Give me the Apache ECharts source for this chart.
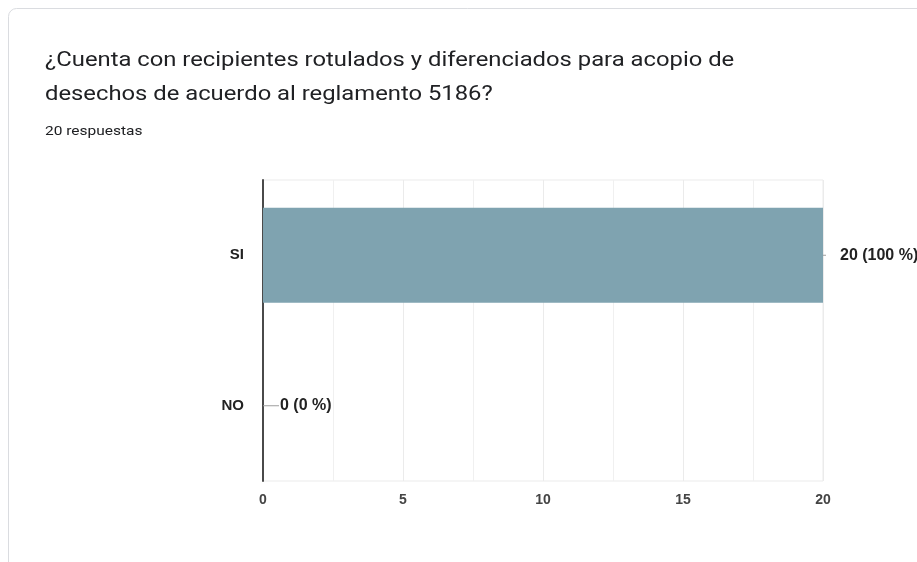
<!DOCTYPE html>
<html>
<head>
<meta charset="utf-8">
<script src="https://cdn.jsdelivr.net/npm/echarts@6/dist/echarts.min.js"></script>
<style>
  html, body { margin: 0; padding: 0; background: #ffffff; }
  #chart { width: 917px; height: 562px; }
</style>
</head>
<body>
<div id="chart"></div>
<script>
// Survey answers: labelled and separated waste containers
const categories = ['SI', 'NO'];
const counts = [20, 0];
const total = 20;
const titleLines = [
  '¿Cuenta con recipientes rotulados y diferenciados para acopio de',
  'desechos de acuerdo al reglamento 5186?'
];
const subtitle = '20 respuestas';

const chart = echarts.init(document.getElementById('chart'), null, { renderer: 'canvas' });

const headFont = 'Roboto, "Noto Sans", sans-serif';
const bodyFont = '"Liberation Sans", Arial, sans-serif';
const stretch = 1.19;

// Value annotation: a grey stem followed by "n (p %)"; on a filled bar only a short stub shows
const labelFmt = p => {
  const txt = '{v|' + p.value + ' (' + Math.round(p.value / total * 100) + ' %)}';
  return p.value > 0 ? '{stub| }{space| }' + txt : '{lead| }{gap| }' + txt;
};

chart.setOption({
  backgroundColor: '#ffffff',
  animation: false,
  graphic: [
    {
      type: 'rect',
      shape: { x: 8.5, y: 8.5, width: 1000, height: 700, r: 8 },
      style: { fill: '#ffffff', stroke: '#dadce0', lineWidth: 1 },
      z: -10
    },
    {
      type: 'text', x: 45, y: 61, scaleX: stretch,
      style: { text: titleLines[0], fontSize: 20, fontFamily: headFont, fill: '#202124', verticalAlign: 'middle' }
    },
    {
      type: 'text', x: 45, y: 95, scaleX: stretch,
      style: { text: titleLines[1], fontSize: 20, fontFamily: headFont, fill: '#202124', verticalAlign: 'middle' }
    },
    {
      type: 'text', x: 45, y: 132, scaleX: stretch,
      style: { text: subtitle, fontSize: 13, fontFamily: headFont, fill: '#202124', verticalAlign: 'middle' }
    }
  ],
  grid: {
    left: 263, right: 94, top: 180, bottom: 81,
    show: true, borderColor: '#ebebeb', borderWidth: 1
  },
  xAxis: {
    type: 'value',
    min: 0, max: 20, interval: 5,
    axisLine: { show: false },
    axisTick: { show: false },
    axisLabel: {
      color: '#444', fontSize: 14, fontWeight: 'bold',
      fontFamily: bodyFont, margin: 12
    },
    splitLine: { show: true, lineStyle: { color: '#ebebeb', width: 1 } },
    minorTick: { show: false, splitNumber: 2 },
    minorSplitLine: { show: true, lineStyle: { color: '#f0f0f0', width: 1 } }
  },
  yAxis: {
    type: 'category',
    data: categories,
    inverse: true,
    axisLine: { show: true, lineStyle: { color: '#4a4a4a', width: 2 } },
    axisTick: { show: false },
    axisLabel: {
      color: '#222', fontSize: 15, fontWeight: 'bold',
      fontFamily: bodyFont, margin: 19
    },
    splitLine: { show: false }
  },
  series: [{
    type: 'bar',
    data: counts,
    barWidth: '63%',
    itemStyle: { color: '#7fa3b0' },
    label: {
      show: true,
      position: 'right',
      distance: 0,
      formatter: labelFmt,
      rich: {
        lead: { width: 16, height: 1, backgroundColor: '#9e9e9e', fontSize: 1 },
        gap: { width: 1, fontSize: 1 },
        stub: { width: 3, height: 1, backgroundColor: '#9e9e9e', fontSize: 1 },
        space: { width: 14, fontSize: 1 },
        v: { color: '#222', fontSize: 16, fontWeight: 'bold', fontFamily: bodyFont }
      }
    }
  }]
});
</script>
</body>
</html>
